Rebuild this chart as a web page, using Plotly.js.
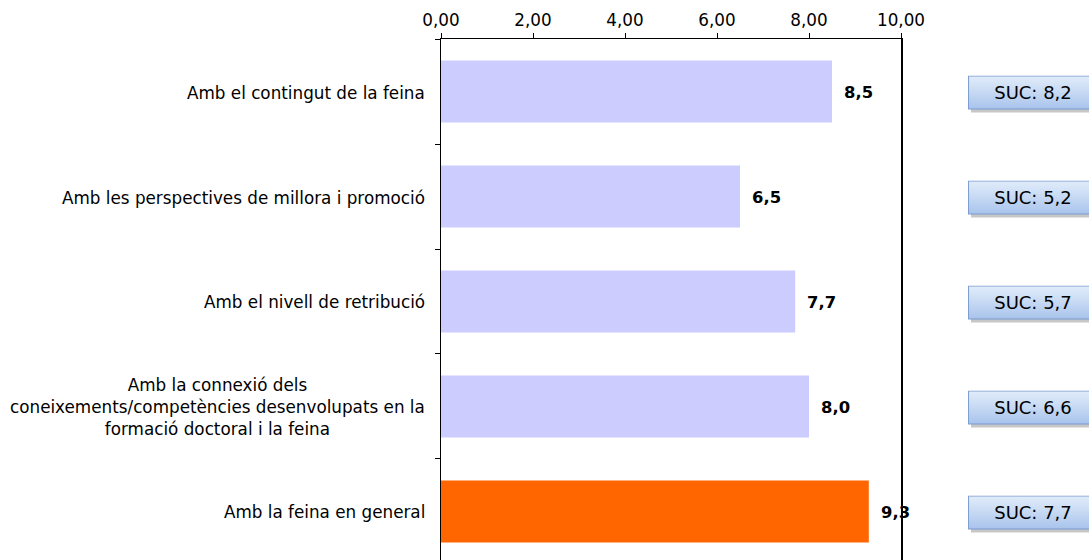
<!DOCTYPE html>
<html><head><meta charset="utf-8">
<script src="https://cdn.plot.ly/plotly-3.0.1.min.js"></script>
<style>html,body{margin:0;padding:0;background:#fff}</style>
</head><body>
<div id="chart" style="width:1089px;height:560px"></div>
<script>
var categories = ["c1","c2","c3","c4","c5"];
var labels = [
  "Amb el contingut de la feina",
  "Amb les perspectives de millora i promoció",
  "Amb el nivell de retribució",
  "Amb la connexió dels<br>coneixements/competències desenvolupats en la<br>formació doctoral i la feina",
  "Amb la feina en general"
];
var values = [8.5, 6.5, 7.7, 8.0, 9.3];
var sucValues = [8.2, 5.2, 5.7, 6.6, 7.7];
var barColors = ["#CCCCFF","#CCCCFF","#CCCCFF","#CCCCFF","#FF6600"];
var xTicks = [0,2,4,6,8,10];

function fmt(v){ return v.toFixed(1).replace(".", ","); }

var boxSvg = '<svg xmlns="http://www.w3.org/2000/svg" width="132" height="38" viewBox="0 0 132 38">' +
  '<defs><linearGradient id="g" x1="0" y1="0" x2="0" y2="1">' +
  '<stop offset="0" stop-color="#E1ECFA"/><stop offset="0.5" stop-color="#C6D9F3"/><stop offset="1" stop-color="#A8C3EC"/>' +
  '</linearGradient></defs>' +
  '<rect x="3" y="3" width="128" height="34" fill="#000" fill-opacity="0.22"/>' +
  '<rect x="0.5" y="0.5" width="127" height="33" fill="url(#g)" stroke="#7B9CD0" stroke-width="1"/>' +
  '</svg>';
var boxSrc = "data:image/svg+xml;charset=utf-8," + encodeURIComponent(boxSvg);

var font = "DejaVu Sans, Verdana, sans-serif";
var ann = [], imgs = [];
for (var i=0;i<categories.length;i++){
  ann.push({xref:"paper", yref:"y", x:-0.035, y:categories[i], xanchor:"right", yanchor:"middle",
    xshift:2, yshift:-1, text:labels[i], showarrow:false, align:"center", font:{family:font,size:16.8,color:"#000"}});
  ann.push({xref:"x", yref:"y", x:values[i], y:categories[i], xanchor:"left", yanchor:"middle",
    xshift:10, yshift:-1, text:"<b>"+fmt(values[i])+"</b>", showarrow:false, font:{family:font,size:16.4,color:"#000"}});
  imgs.push({source:boxSrc, xref:"paper", yref:"y", x:1.1457, y:i, xanchor:"left", yanchor:"top",
    yshift:0, sizex:132/460, sizey:38/105, sizing:"stretch", layer:"above"});
  ann.push({xref:"paper", yref:"y", x:1.1457, y:categories[i], xanchor:"left", yanchor:"middle",
    yshift:-1, text:"SUC: "+fmt(sucValues[i]), showarrow:false, width:126, height:31, borderpad:1,
    align:"center", font:{family:font,size:18,color:"#000"}});
}
// shift image tops so box is centred on category (box 34px high -> top 17px above centre)
for (var k=0;k<imgs.length;k++){ imgs[k].y = k - 17/105 + 1/105; }

var trace = {type:"bar", orientation:"h", x:values, y:categories,
  marker:{color:barColors, line:{width:0}}, hoverinfo:"none"};

var layout = {
  width:1089, height:560,
  margin:{l:441, r:188, t:39, b:0, pad:0},
  paper_bgcolor:"#fff", plot_bgcolor:"#fff",
  showlegend:false, bargap:0.41,
  xaxis:{side:"top", range:[0,10], tickvals:xTicks, tickformat:".2f",
    showgrid:false, zeroline:false, showline:true, linecolor:"#000", linewidth:1.5, mirror:true,
    ticks:"outside", ticklen:5, tickcolor:"#000", tickwidth:1,
    tickfont:{family:font,size:16.8,color:"#000"}, fixedrange:true},
  yaxis:{type:"category", categoryarray:categories, range:[4.462,-0.5],
    showticklabels:false, showgrid:false, zeroline:false, showline:true, linecolor:"#000", linewidth:1.5, mirror:true,
    ticks:"outside", tickson:"boundaries", ticklen:5, tickcolor:"#000", tickwidth:1, fixedrange:true},
  separators:",.",
  annotations:ann,
  images:imgs
};
Plotly.newPlot("chart",[trace],layout,{displayModeBar:false, staticPlot:true});
</script>
</body></html>
